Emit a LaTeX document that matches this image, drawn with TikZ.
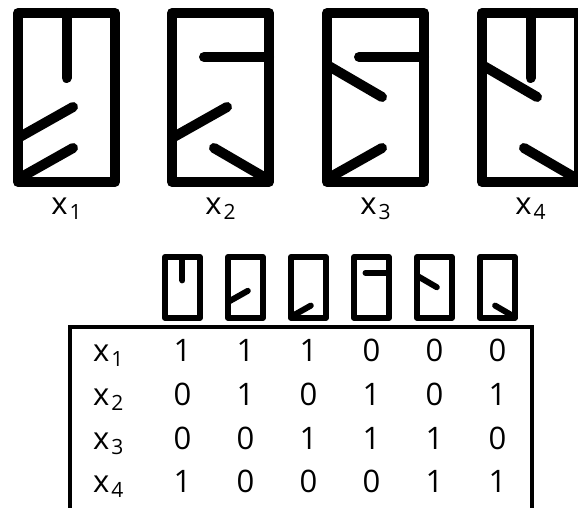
\documentclass[tikz,border=0pt]{standalone}
\usepackage{fontspec}
\setmainfont{Open Sans}

% letter with a lowered index
\newcommand{\xsub}[1]{x\hspace{2pt}\raisebox{-5pt}{\fontsize{21}{21}\selectfont #1}}

\begin{document}
\begin{tikzpicture}[
  x=1pt, y=-1pt,
  font=\fontsize{31}{32}\selectfont,
  thick stroke/.style={line width=10pt, line cap=round, line join=round},
  thin stroke/.style={line width=6pt, line cap=round, line join=round, scale=0.36, transform shape},
  lbl/.style={inner sep=0pt, anchor=base},
  pics/frame/.style={code={\draw (0,0) rectangle (97,169);}},
  pics/stub/.style={code={\draw (48.5,0) -- (48.5,65);}},
  pics/bar/.style={code={\draw (32,44) -- (97,44);}},
  pics/upper/.style={code={\draw (0,125) -- (55,94);}},
  pics/lower/.style={code={\draw (0,166) -- (55,135);}},
  pics/heel/.style={code={\draw (42,135) -- (97,167);}},
  pics/slash/.style={code={\draw (0,52) -- (55,84);}}
]
\useasboundingbox (0,0) rectangle (578,508);

% LETTER SHAPES
\begin{scope}[shift={(18,13)}, thick stroke]
  \pic {frame}; \pic {stub}; \pic {upper}; \pic {lower};
\end{scope}
\begin{scope}[shift={(172,13)}, thick stroke]
  \pic {frame}; \pic {bar}; \pic {upper}; \pic {heel};
\end{scope}
\begin{scope}[shift={(327,13)}, thick stroke]
  \pic {frame}; \pic {bar}; \pic {slash}; \pic {lower};
\end{scope}
\begin{scope}[shift={(482,13)}, thick stroke]
  \pic {frame}; \pic {stub}; \pic {slash}; \pic {heel};
\end{scope}

\foreach \px [count=\i] in {18,172,327,482}
  \node[lbl] (shape\i) at (\px+48.5,214) {\xsub{\i}};

% PARTS
\begin{scope}[shift={(165,257)}, thin stroke]
  \pic {frame}; \pic {stub};
\end{scope}
\begin{scope}[shift={(228,257)}, thin stroke]
  \pic {frame}; \pic {upper};
\end{scope}
\begin{scope}[shift={(291,257)}, thin stroke]
  \pic {frame}; \pic {lower};
\end{scope}
\begin{scope}[shift={(354,257)}, thin stroke]
  \pic {frame}; \pic {bar};
\end{scope}
\begin{scope}[shift={(417,257)}, thin stroke]
  \pic {frame}; \pic {slash};
\end{scope}
\begin{scope}[shift={(480,257)}, thin stroke]
  \pic {frame}; \pic {heel};
\end{scope}

% TABLE
\draw[line width=4pt] (70,520) -- (70,327) -- (532,327) -- (532,520);
\foreach \row [count=\r] in {{1,1,1,0,0,0},{0,1,0,1,0,1},{0,0,1,1,1,0},{1,0,0,0,1,1}} {
  \node[lbl, anchor=base west] (row\r) at (93,{361.5+43.8*(\r-1)}) {\xsub{\r}};
  \foreach \v [count=\c] in \row
    \node[lbl] (cell\r\c) at ({182.5+63*(\c-1)},{361.5+43.8*(\r-1)}) {\v};
}

\end{tikzpicture}
\end{document}
